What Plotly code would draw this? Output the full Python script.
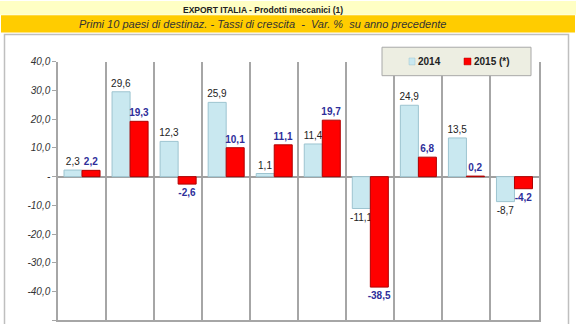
import plotly.graph_objects as go

W, H = 576, 324

categories = ["Paese 1", "Paese 2", "Paese 3", "Paese 4", "Paese 5",
              "Paese 6", "Paese 7", "Paese 8", "Paese 9", "Paese 10"]
vals_2014 = [2.3, 29.6, 12.3, 25.9, 1.1, 11.4, -11.1, 24.9, 13.5, -8.7]
vals_2015 = [2.2, 19.3, -2.6, 10.1, 11.1, 19.7, -38.5, 6.8, 0.2, -4.2]
series_names = ["2014", "2015 (*)"]
series_colors = ["#C9E8F0", "#FF0000"]
series_lines = ["#9DC4D0", "#B00000"]
y_ticks = [40, 30, 20, 10, 0, -10, -20, -30, -40, -50]
y_ticktext = ["40,0", "30,0", "20,0", "10,0", "-", "-10,0", "-20,0", "-30,0", "-40,0", "-50,0"]
title_top = "EXPORT ITALIA - Prodotti meccanici (1)"
subtitle = "Primi 10 paesi di destinaz. - Tassi di crescita  -  Var. %  su anno precedente"

def px(x):
    return x / W

def py(y):
    return 1 - y / H

xpos = list(range(len(categories)))

def fmt(v):
    return f"{v:.1f}".replace(".", ",")

FONT = "Arial, Liberation Sans"

fig = go.Figure()
fig.add_trace(go.Bar(
    x=xpos, y=vals_2014, name=series_names[0],
    marker=dict(color=series_colors[0], line=dict(color=series_lines[0], width=1)),
    text=[fmt(v) for v in vals_2014], textposition="outside", constraintext="none",
    textfont=dict(family=FONT, size=10, color="#222222"),
    cliponaxis=False, customdata=categories, showlegend=False,
))
fig.add_trace(go.Bar(
    x=xpos, y=vals_2015, name=series_names[1],
    marker=dict(color=series_colors[1], line=dict(color=series_lines[1], width=1)),
    text=[fmt(v) for v in vals_2015], textposition="outside", constraintext="none",
    textfont=dict(family=FONT, size=10, color="#2E2E9A", weight="bold"),
    cliponaxis=False, customdata=categories, showlegend=False,
))

shapes = [
    # top light-yellow band
    dict(type="rect", xref="paper", yref="paper", x0=0, x1=1, y0=py(9), y1=py(-5),
         fillcolor="#FFFFC4", line=dict(width=0), layer="below"),
    # gold banner
    dict(type="rect", xref="paper", yref="paper", x0=px(1), x1=px(575), y0=py(27), y1=py(9.5),
         fillcolor="#FFCC00", line=dict(width=0), layer="below"),
    # chart box
    dict(type="rect", xref="paper", yref="paper", x0=px(4.5), x1=px(568.5), y0=py(340), y1=py(29),
         fillcolor="white", line=dict(color="#BFBFBF", width=1.5), layer="below"),
    # legend box
    dict(type="rect", xref="paper", yref="paper", x0=px(382), x1=px(531), y0=py(71), y1=py(42),
         fillcolor="#EDEEE2", line=dict(color="#A8A8A8", width=1), layer="above"),
    # legend markers
    dict(type="rect", xref="paper", yref="paper", x0=px(409), x1=px(415), y0=py(60), y1=py(53),
         fillcolor=series_colors[0], line=dict(color=series_lines[0], width=0.5), layer="above"),
    dict(type="rect", xref="paper", yref="paper", x0=px(464), x1=px(471), y0=py(60), y1=py(53),
         fillcolor=series_colors[1], line=dict(color=series_lines[1], width=0.5), layer="above"),
]

annotations = [
    dict(text=f"<b>{title_top}</b>", xref="paper", yref="paper", x=px(263), y=py(4.3),
         xanchor="center", yanchor="middle", showarrow=False, borderpad=0,
         font=dict(family=FONT, size=8.5, color="#222222")),
    dict(text=f"<i>{subtitle}</i>", xref="paper", yref="paper", x=px(262), y=py(18.5),
         xanchor="center", yanchor="middle", showarrow=False,
         font=dict(family=FONT, size=11, color="#333333")),
    dict(text=f"<b>{series_names[0]}</b>", xref="paper", yref="paper", x=px(416), y=py(57),
         xanchor="left", yanchor="middle", showarrow=False,
         font=dict(family=FONT, size=10, color="#222222")),
    dict(text=f"<b>{series_names[1]}</b>", xref="paper", yref="paper", x=px(472), y=py(57),
         xanchor="left", yanchor="middle", showarrow=False,
         font=dict(family=FONT, size=10, color="#222222")),
]

fig.update_layout(
    width=W, height=H,
    margin=dict(l=0, r=0, t=0, b=0),
    paper_bgcolor="white",
    plot_bgcolor="rgba(0,0,0,0)",
    barmode="group", bargap=0.25, bargroupgap=0.0,
    separators=",.",
    shapes=shapes, annotations=annotations,
    showlegend=False,
    xaxis=dict(domain=[px(58), px(538.5)], range=[-0.5, len(categories) - 0.5],
               tickvals=[i + 0.5 for i in range(len(categories) - 1)],
               showticklabels=False, ticks="",
               showgrid=True, gridcolor="#A6A6A6", gridwidth=1.5,
               showline=True, linecolor="#A6A6A6", linewidth=1.5, zeroline=False),
    yaxis=dict(domain=[py(320), py(57)], range=[-50, 40],
               tickvals=y_ticks, ticktext=y_ticktext,
               tickfont=dict(family=FONT, size=10, color="#333333", style="italic"),
               ticks="outside", ticklen=4, tickcolor="#A6A6A6",
               showgrid=False, showline=True, mirror=True, linecolor="#A6A6A6", linewidth=1.5,
               zeroline=True, zerolinecolor="#A0A0A0", zerolinewidth=1.5),
)

fig.write_html("out.html")
